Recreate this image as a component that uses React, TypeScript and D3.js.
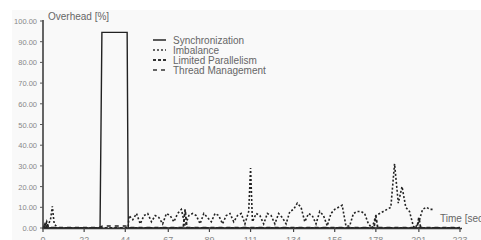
import React from "react";
import * as d3 from "d3";

const xTicks = [0, 22, 44, 67, 89, 111, 134, 156, 178, 201, 223];
const yTicks = [0, 10, 20, 30, 40, 50, 60, 70, 80, 90, 100];

const syncT = [0, 1, 2, 3, 30.5, 31.5, 45, 45.6, 223];
const syncV = [0, 2, 0.5, 0, 0, 94.5, 94.5, 0, 0];

const imbT = [0, 2, 3, 4, 5, 5.5, 6, 7, 8, 45.5, 46, 48, 50, 52, 54, 56, 58, 60, 62, 64, 66, 68, 70, 72, 74, 76, 78, 80, 82, 84, 86, 88, 90, 92, 94, 96, 98, 100, 102, 104, 106, 108, 110, 111, 112, 114, 116, 118, 120, 122, 124, 126, 128, 130, 132, 134, 136, 138, 140, 142, 144, 146, 148, 150, 152, 154, 156, 158, 160, 162, 164, 166, 168, 170, 172, 174, 176, 178, 180, 182, 184, 186, 188, 190, 192, 194, 196, 198, 199, 201, 203, 205, 207, 209];
const imbV = [0, 1, 2, 4, 10.5, 6, 2, 1, 0, 0, 6, 4, 7, 2, 6, 7, 3, 6, 5, 2, 7, 6, 3, 7, 9, 1, 6, 7, 6, 2, 7, 5, 3, 7, 6, 2, 6, 7, 3, 6, 7, 2, 8, 29, 3, 7, 6, 2, 7, 6, 2, 7, 5, 2, 8, 9, 12, 10, 3, 7, 6, 2, 8, 6, 1, 7, 9, 10, 11, 1, 1, 7, 8, 8, 7, 2, 0, 6, 7, 8, 9, 10, 31, 12, 20, 10, 8, 1, 0, 3, 9, 10, 9, 9];

const lpT = [0, 1, 2, 3, 30, 75, 76, 77, 177, 178, 179, 200, 201, 202, 223];
const lpV = [0, 0.5, 3, 0, 0, 0, 9, 0, 0, 6, 0, 0, 5, 0, 0];

const tmT = [0, 30, 32, 44, 46, 223];
const tmV = [0.3, 0.3, 1, 1, 0.3, 0.3];

const legend = [
  { name: "Synchronization", dash: "none", w: 1.6 },
  { name: "Imbalance", dash: "2,2", w: 1.4 },
  { name: "Limited Parallelism", dash: "3,2", w: 2 },
  { name: "Thread Management", dash: "4,4", w: 1.6 },
];

export default function App() {
  const x = d3.scaleLinear().domain([0, 223]).range([43, 460]);
  const y = d3.scaleLinear().domain([0, 100]).range([228, 21]);
  const line = d3
    .line<[number, number]>()
    .x((d) => x(d[0]))
    .y((d) => y(d[1]));
  const zip = (t: number[], v: number[]) => t.map((ti, i) => [ti, v[i]] as [number, number]);
  const series = [
    { d: zip(tmT, tmV), dash: "4,4", w: 1.4 },
    { d: zip(lpT, lpV), dash: "3,2", w: 1.8 },
    { d: zip(syncT, syncV), dash: "none", w: 1.4 },
    { d: zip(imbT, imbV), dash: "2,2", w: 1.6 },
  ];
  const font = "Liberation Sans, Arial, sans-serif";
  return (
    <div style={{ position: "fixed", left: 0, top: 0 }}>
      <svg width={481} height={240} style={{ display: "block" }}>
        <rect x={0} y={0} width={481} height={240} fill="#ffffff" />
        <rect x={12} y={10} width={469} height={230} fill="#f9f9f9" />
        {series.map((s, i) => (
          <path
            key={i}
            d={line(s.d) || ""}
            fill="none"
            stroke="#222"
            strokeWidth={s.w}
            strokeDasharray={s.dash}
          />
        ))}
        <line x1={43} x2={43} y1={20} y2={229} stroke="#333" strokeWidth={1.5} />
        <line x1={42} x2={462} y1={228.5} y2={228.5} stroke="#333" strokeWidth={1.5} />
        {yTicks.map((t) => (
          <g key={t}>
            <line x1={40} x2={43} y1={y(t)} y2={y(t)} stroke="#555" strokeWidth={1} />
            <text x={37} y={y(t) + 3} fontSize={7.5} fill="#888" textAnchor="end" fontFamily={font}>
              {t.toFixed(2)}
            </text>
          </g>
        ))}
        {xTicks.map((t) => (
          <g key={t}>
            <line x1={x(t)} x2={x(t)} y1={228} y2={232} stroke="#444" strokeWidth={1.2} />
            <text x={x(t)} y={243} fontSize={9} fill="#888" textAnchor="middle" fontFamily={font}>
              {t}
            </text>
          </g>
        ))}
        <text x={48} y={20} fontSize={10} fill="#666" fontFamily={font}>
          Overhead [%]
        </text>
        <text x={440} y={222} fontSize={10} fill="#666" fontFamily={font}>
          Time [sec]
        </text>
        {legend.map((l, i) => (
          <g key={l.name}>
            <line
              x1={153}
              x2={166}
              y1={40 + i * 10}
              y2={40 + i * 10}
              stroke="#333"
              strokeWidth={l.w}
              strokeDasharray={l.dash}
            />
            <text x={173} y={43.5 + i * 10} fontSize={10} fill="#666" fontFamily={font}>
              {l.name}
            </text>
          </g>
        ))}
      </svg>
    </div>
  );
}
